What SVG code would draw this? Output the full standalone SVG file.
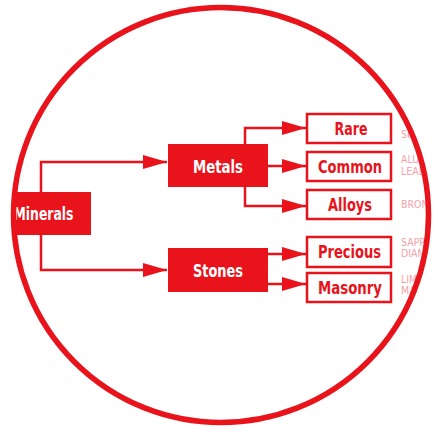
<svg xmlns="http://www.w3.org/2000/svg" width="436" height="429" viewBox="0 0 436 429">
  <defs>
    <clipPath id="disc">
      <circle cx="221" cy="215" r="206"/>
    </clipPath>
    <marker id="arrow" markerUnits="userSpaceOnUse" markerWidth="24" markerHeight="14" refX="24" refY="7" orient="auto">
      <path d="M0,0 L24,7 L0,14 Z" fill="#e8131b"/>
    </marker>
    <style>
      .solid { fill: #e8131b; }
      .outline { fill: #ffffff; stroke: #e8131b; stroke-width: 2.5; }
      .link { fill: none; stroke: #e8131b; stroke-width: 2.5; marker-end: url(#arrow); }
      .lbl { font-family: "DejaVu Sans Condensed", "Liberation Sans Narrow", "Liberation Sans", sans-serif; font-weight: bold; font-size: 18px; text-anchor: middle; dominant-baseline: central; }
      .w { fill: #ffffff; }
      .r { fill: #e8131b; }
      .note { font-family: "DejaVu Sans Condensed", "Liberation Sans Narrow", "Liberation Sans", sans-serif; font-size: 10.5px; fill: #f3a3aa; }
    </style>
  </defs>
  <rect width="436" height="429" fill="#ffffff"/>
  <g clip-path="url(#disc)">
    <!-- connectors -->
    <g id="connectors">
      <path class="link" d="M41,192 V162 H167"/>
      <path class="link" d="M41,235 V270 H167"/>
      <path class="link" d="M245,144 V128 H306"/>
      <path class="link" d="M268,166 H306"/>
      <path class="link" d="M245,187 V206 H306"/>
      <path class="link" d="M268,254 H306"/>
      <path class="link" d="M268,284 H306"/>
    </g>
    <g id="minerals">
      <rect class="solid" x="0" y="192" width="91" height="43"/>
      <text class="lbl w" x="43.5" y="213" textLength="60" lengthAdjust="spacingAndGlyphs">Minerals</text>
    </g>
    <g id="metals">
      <rect class="solid" x="168" y="144" width="100" height="43"/>
      <text class="lbl w" x="218" y="166" textLength="50" lengthAdjust="spacingAndGlyphs">Metals</text>
    </g>
    <g id="stones">
      <rect class="solid" x="168" y="248" width="100" height="44"/>
      <text class="lbl w" x="218" y="270" textLength="50" lengthAdjust="spacingAndGlyphs">Stones</text>
    </g>
    <g id="rare">
      <rect class="outline" x="307" y="114" width="84" height="29"/>
      <text class="lbl r" x="351" y="128" textLength="33" lengthAdjust="spacingAndGlyphs">Rare</text>
    </g>
    <g id="common">
      <rect class="outline" x="307" y="152" width="84" height="29"/>
      <text class="lbl r" x="350" y="166" textLength="64" lengthAdjust="spacingAndGlyphs">Common</text>
    </g>
    <g id="alloys">
      <rect class="outline" x="307" y="190" width="84" height="29"/>
      <text class="lbl r" x="350" y="204" textLength="44" lengthAdjust="spacingAndGlyphs">Alloys</text>
    </g>
    <g id="precious">
      <rect class="outline" x="307" y="237" width="84" height="30"/>
      <text class="lbl r" x="349.5" y="251.5" textLength="63" lengthAdjust="spacingAndGlyphs">Precious</text>
    </g>
    <g id="masonry">
      <rect class="outline" x="307" y="273" width="84" height="29"/>
      <text class="lbl r" x="350" y="287" textLength="64" lengthAdjust="spacingAndGlyphs">Masonry</text>
    </g>
    <!-- example notes beside each leaf -->
    <g id="notes">
      <text class="note" x="401" y="138">SILVER</text>
      <text class="note" x="401" y="163">ALUMINIUM</text>
      <text class="note" x="401" y="175">LEAD</text>
      <text class="note" x="401" y="208">BRONZE</text>
      <text class="note" x="401" y="246">SAPPHIRE</text>
      <text class="note" x="401" y="257">DIAMOND</text>
      <text class="note" x="401" y="283">LIMESTONE</text>
      <text class="note" x="401" y="294">MARBLE</text>
    </g>
  </g>
  <circle cx="221" cy="215" r="207.5" fill="none" stroke="#e8131b" stroke-width="5.5"/>
</svg>
